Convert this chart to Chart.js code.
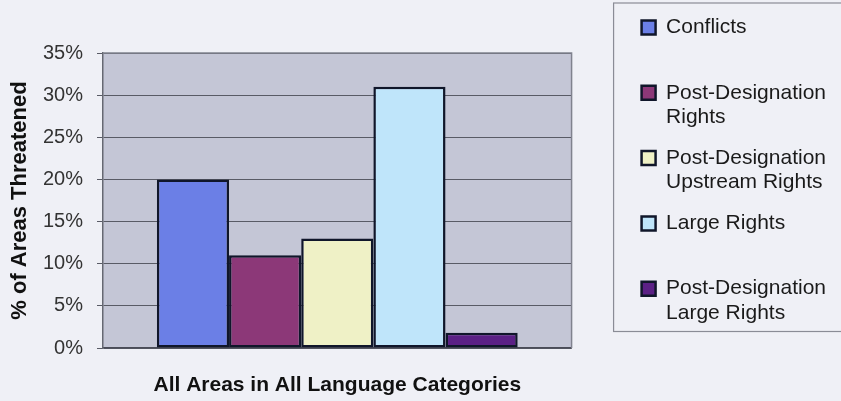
<!DOCTYPE html>
<html>
<head>
<meta charset="utf-8">
<script src="https://cdn.jsdelivr.net/npm/chart.js@4"></script>
<style>
    html, body { margin: 0; padding: 0; background: #eff0f6; }
    #wrap { width: 841px; height: 401px; position: relative; }
</style>
</head>
<body>
<div id="wrap"><canvas id="chart"></canvas></div>
<script>
const categories = ["All Areas in All Language Categories"];

// legend text, one array of lines per series
const seriesLabels = [
    ["Conflicts", ""],
    ["Post-Designation", "Rights"],
    ["Post-Designation", "Upstream Rights"],
    ["Large Rights", ""],
    ["Post-Designation", "Large Rights"]
];
const seriesValues = [20, 11, 13, 31, 1.8];
const seriesColors = ["#6b7fe6", "#8c3878", "#eff1c6", "#bfe5fa", "#5b2085"];

const yTicks = [0, 5, 10, 15, 20, 25, 30, 35];

const FONT = "'Liberation Sans', Arial, sans-serif";

const plotFrame = {
    id: "plotFrame",
    beforeDraw(chart) {
        const { ctx, chartArea: a } = chart;
        ctx.save();
        ctx.fillStyle = "#c4c6d6";
        ctx.fillRect(a.left, a.top, a.right - a.left, a.bottom - a.top);
        ctx.restore();
    },
    afterDraw(chart) {
        const { ctx, chartArea: a, legend } = chart;
        ctx.save();
        ctx.strokeStyle = "#80828e";
        ctx.lineWidth = 1.5;
        ctx.beginPath();
        ctx.moveTo(a.left, a.top);
        ctx.lineTo(a.right, a.top);
        ctx.lineTo(a.right, a.bottom);
        ctx.stroke();

        // legend frame, runs off the right edge like the original
        const boxes = legend.legendHitBoxes;
        const first = boxes[0];
        const last = boxes[boxes.length - 1];
        ctx.strokeStyle = "#8a8c96";
        ctx.lineWidth = 1.2;
        ctx.strokeRect(legend.left - 11, first.top - 14, chart.width, last.top + last.height + 19 - first.top);
        ctx.restore();
    }
};

new Chart(document.getElementById("chart").getContext("2d"), {
    type: "bar",
    data: {
        labels: categories,
        datasets: seriesLabels.map((label, i) => ({
            label: label,
            data: [seriesValues[i]],
            backgroundColor: seriesColors[i],
            borderColor: "#10162a",
            borderWidth: 2.5,
            borderSkipped: false
        }))
    },
    options: {
        responsive: true,
        maintainAspectRatio: false,
        animation: false,
        barPercentage: 1,
        categoryPercentage: 0.77,
        layout: {
            padding: { left: 0, right: 5, top: 0, bottom: 0 }
        },

        scales: {
            x: {
                grid: { display: false },
                border: { display: true, color: "#4a4c58", width: 1.5 },
                ticks: {
                    padding: 17,
                    maxRotation: 0,
                    color: "#111",
                    font: { family: FONT, size: 21, weight: "bold" }
                },
                afterFit: scale => { scale.height = 53; }
            },
            y: {
                min: 0,
                max: 35,
                afterBuildTicks: scale => {
                    scale.ticks = yTicks.map(v => ({ value: v }));
                },
                grid: {
                    color: "#595b66",
                    lineWidth: 1,
                    tickLength: 6,
                    tickColor: "#595b66"
                },
                border: { display: true, color: "#666872", width: 1.5 },
                ticks: {
                    padding: 14,
                    color: "#333",
                    font: { family: FONT, size: 20 },
                    callback: v => v + "%"
                },
                title: {
                    display: true,
                    text: "% of Areas Threatened",
                    color: "#111",
                    padding: { top: 7, bottom: 0 },
                    font: { family: FONT, size: 22, weight: "bold" }
                },
                afterFit: scale => { scale.width = 103; }
            },
            gap: {
                type: "linear",
                position: "right",
                display: true,
                grid: { display: false },
                border: { display: false },
                ticks: { display: false },
                afterFit: scale => { scale.width = 53; }
            }
        },

        plugins: {
            title: {
                display: true,
                text: "",
                padding: { top: 29, bottom: 0 },
                font: { family: FONT, size: 20, lineHeight: 1.2 }
            },
            legend: {
                position: "right",
                align: "start",
                maxWidth: 240,
                labels: {
                    boxWidth: 14,
                    boxHeight: 14,
                    padding: 17,
                    color: "#1a1a1a",
                    font: { family: FONT, size: 21, lineHeight: 1.15 }
                }
            },
            tooltip: { enabled: false }
        }
    },
    plugins: [plotFrame]
});
</script>
</body>
</html>
